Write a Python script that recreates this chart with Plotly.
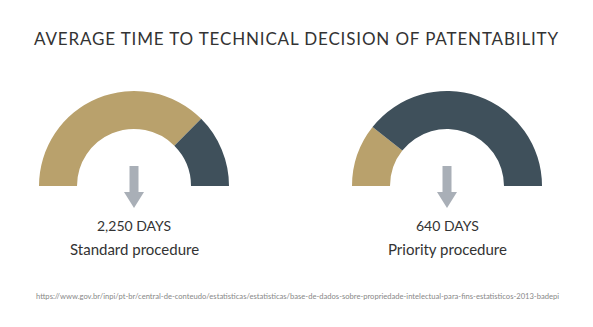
import plotly.graph_objects as go

# Data
procedures = ["Standard procedure", "Priority procedure"]
days = [2250, 640]
scale_max = 3000
day_labels = ["2,250 DAYS", "640 DAYS"]
title = "AVERAGE TIME TO TECHNICAL DECISION OF PATENTABILITY"
source = "https://www.gov.br/inpi/pt-br/central-de-conteudo/estatisticas/estatisticas/base-de-dados-sobre-propriedade-intelectual-para-fins-estatisticos-2013-badepi"

TAN = "#b9a16c"
SLATE = "#3f505b"
ARROW = "#a9afb7"
TXT = "#333333"

W, H = 593, 327
centers_px = [(134, 186), (447, 186)]
R = 95

fig = go.Figure()
for i, d in enumerate(days):
    cx, cy = centers_px[i]
    x0, x1 = (cx - R) / W, (cx + R) / W
    y0, y1 = (H - cy - R) / H, (H - cy + R) / H
    fig.add_trace(go.Pie(
        values=[d, scale_max - d, scale_max],
        marker=dict(colors=[TAN, SLATE, "rgba(0,0,0,0)"], line=dict(width=0)),
        hole=0.6, sort=False, direction="clockwise", rotation=-90,
        textinfo="none", hoverinfo="skip", showlegend=False,
        domain=dict(x=[x0, x1], y=[y0, y1]),
    ))
    # arrow shaft and head
    fig.add_shape(type="rect", xref="paper", yref="paper",
                  x0=(cx - 4.5) / W, x1=(cx + 4.5) / W,
                  y0=(H - 193) / H, y1=(H - 166) / H,
                  fillcolor=ARROW, line=dict(width=0))
    fig.add_shape(type="path", xref="paper", yref="paper",
                  path=f"M {(cx-10)/W} {(H-192)/H} L {(cx+10)/W} {(H-192)/H} L {cx/W} {(H-208)/H} Z",
                  fillcolor=ARROW, line=dict(width=0))
    fig.add_annotation(text=day_labels[i], x=cx / W, y=(H - 225) / H, xref="paper", yref="paper",
                       showarrow=False, xanchor="center", yanchor="middle",
                       font=dict(family="Lato", size=14, color=TXT))
    fig.add_annotation(text=procedures[i], x=cx / W, y=(H - 249) / H, xref="paper", yref="paper",
                       showarrow=False, xanchor="center", yanchor="middle",
                       font=dict(family="Lato", size=15, color=TXT))

fig.add_annotation(text=f'<span style="letter-spacing:0.85px">{title}</span>',
                   x=0.5, y=(H - 38) / H, xref="paper", yref="paper",
                   showarrow=False, xanchor="center", yanchor="middle",
                   font=dict(family="Lato", size=17, color=TXT))
fig.add_annotation(text=source, x=(297) / W, y=(H - 296) / H, xref="paper", yref="paper",
                   showarrow=False, xanchor="center", yanchor="middle",
                   font=dict(family="Lato", size=7.6, color="#888888"))

fig.update_layout(width=W, height=H, margin=dict(l=0, r=0, t=0, b=0),
                  paper_bgcolor="white", plot_bgcolor="white")
fig.write_html("out.html")
